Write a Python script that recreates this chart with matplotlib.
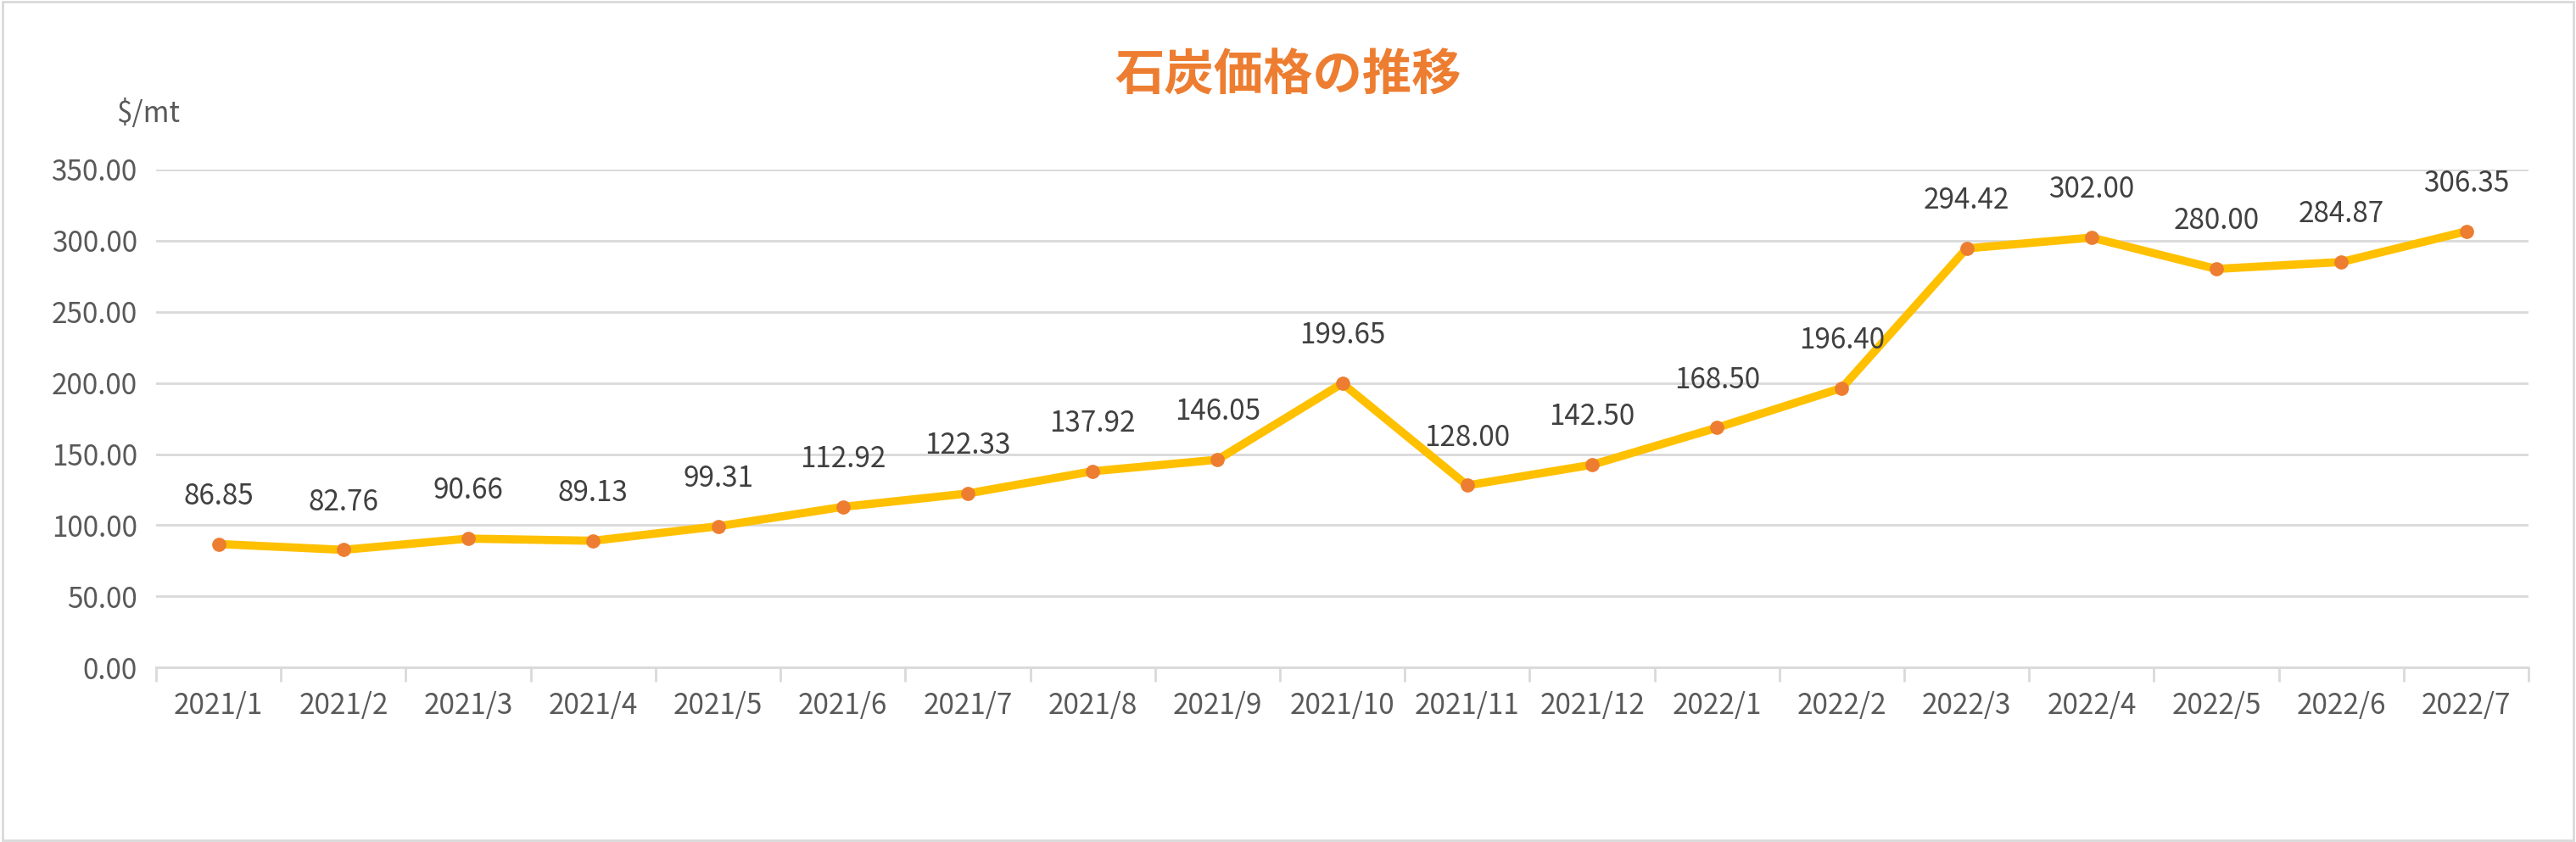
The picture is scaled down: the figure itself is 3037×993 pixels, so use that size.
import numpy as np
import matplotlib.pyplot as plt
from matplotlib.patches import Rectangle

plt.rcParams['font.family'] = ['Noto Sans CJK JP', 'DejaVu Sans']

months = ["2021/1", "2021/2", "2021/3", "2021/4", "2021/5", "2021/6", "2021/7",
          "2021/8", "2021/9", "2021/10", "2021/11", "2021/12", "2022/1", "2022/2",
          "2022/3", "2022/4", "2022/5", "2022/6", "2022/7"]
prices = [86.85, 82.76, 90.66, 89.13, 99.31, 112.92, 122.33, 137.92, 146.05,
          199.65, 128.00, 142.50, 168.50, 196.40, 294.42, 302.00, 280.00,
          284.87, 306.35]

fig = plt.figure(figsize=(30.37, 9.93), dpi=100)
ax = fig.add_axes([0.0606, 0.207, 0.921, 0.592])
fig.patches.append(Rectangle((0.001, 0.002), 0.998, 0.996, transform=fig.transFigure,
                             fill=False, edgecolor="#d9d9d9", linewidth=2))

x = np.arange(len(months))
ax.plot(x, prices, color="#FFC000", linewidth=7, zorder=3)
ax.plot(x, prices, "o", color="#ED7D31", markersize=11, zorder=4)
for xi, p in zip(x, prices):
    ax.annotate(f"{p:.2f}", (xi, p), xytext=(0, 28), textcoords="offset points",
                ha="center", va="bottom", fontsize=24, color="#404040")

ax.set_xlim(-0.5, len(months) - 0.5)
ax.set_ylim(0, 350)
ax.set_yticks(np.arange(0, 351, 50))
ax.set_yticklabels([f"{v:.2f}" for v in np.arange(0, 351, 50)])
ax.set_xticks(x)
ax.set_xticklabels(months)
ax.set_xticks(np.arange(-0.5, len(months), 1), minor=True)
ax.tick_params(axis="x", which="major", length=0, pad=20, labelsize=24, labelcolor="#595959")
ax.tick_params(axis="x", which="minor", length=12, color="#d9d9d9", width=2)
ax.tick_params(axis="y", length=0, pad=16, labelsize=24, labelcolor="#595959")
ax.grid(axis="y", color="#d9d9d9", linewidth=2)
for s in ["top", "right", "left"]:
    ax.spines[s].set_visible(False)
ax.spines["bottom"].set_color("#d9d9d9")
ax.spines["bottom"].set_linewidth(2)

fig.text(0.5, 0.91, "石炭価格の推移", ha="center", va="center", fontsize=42,
         fontweight="bold", color="#ED7D31")
fig.text(0.045, 0.865, "$/mt", ha="left", va="center", fontsize=24, color="#595959")

fig.savefig("out.png", dpi=100)
